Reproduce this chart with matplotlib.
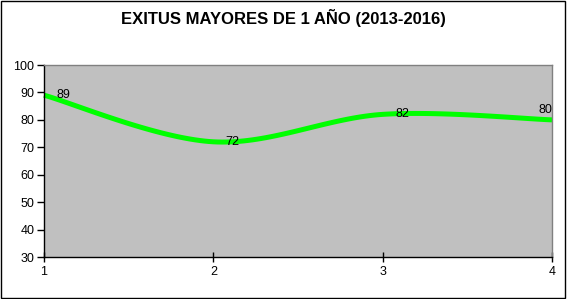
import numpy as np
import matplotlib.pyplot as plt
from matplotlib.patches import Rectangle

plt.rcParams['font.family'] = ['Liberation Sans', 'DejaVu Sans']

x = [1, 2, 3, 4]
valores = [89, 72, 82, 80]
titulo = 'EXITUS MAYORES DE 1 AÑO (2013-2016)'


def catmull_rom(px, py, n=40):
    # suavizado tipo Excel (curva por los puntos)
    px = np.asarray(px, float)
    py = np.asarray(py, float)
    px_e = np.r_[px[0], px, px[-1]]
    py_e = np.r_[py[0], py, py[-1]]
    xs, ys = [], []
    t = np.linspace(0, 1, n)
    for i in range(1, len(px_e) - 2):
        p0, p1, p2, p3 = [np.array([px_e[k], py_e[k]]) for k in range(i - 1, i + 3)]
        b1 = p1 + (p2 - p0) / 6
        b2 = p2 - (p3 - p1) / 6
        for tt in t:
            pt = ((1 - tt) ** 3) * p1 + 3 * ((1 - tt) ** 2) * tt * b1 + 3 * (1 - tt) * tt ** 2 * b2 + tt ** 3 * p2
            xs.append(pt[0])
            ys.append(pt[1])
    return np.array(xs), np.array(ys)


fig = plt.figure(figsize=(5.67, 2.99), dpi=100)
ax = fig.add_axes([44 / 567, 1 - 257 / 299, 508 / 567, 192 / 299])
ax.set_facecolor('#C0C0C0')

sx, sy = catmull_rom(x, valores)
ax.plot(sx, sy, color='#00FF00', lw=3.6, solid_capstyle='butt', clip_on=False)

for i, (xi, v) in enumerate(zip(x, valores)):
    if i == len(x) - 1:
        ax.annotate(str(v), (xi, v), xytext=(0, 3), textcoords='offset points',
                    ha='right', va='bottom', fontsize=9)
    else:
        ax.annotate(str(v), (xi, v), xytext=(9, 0), textcoords='offset points',
                    ha='left', va='center', fontsize=9)

ax.set_xlim(1, 4)
ax.set_ylim(30, 100)
ax.set_xticks(x)
ax.set_yticks(range(30, 101, 10))
ax.tick_params(axis='y', direction='out', length=5, width=1, labelsize=9, pad=2)
ax.tick_params(axis='x', direction='inout', length=7, width=1, labelsize=9, pad=3)
for s in ['left', 'bottom']:
    ax.spines[s].set_color('black')
    ax.spines[s].set_linewidth(1)
for s in ['top', 'right']:
    ax.spines[s].set_color('#808080')
    ax.spines[s].set_linewidth(1)

fig.text(283 / 567, 1 - 18 / 299, titulo, ha='center', va='center',
         fontsize=12, fontweight='bold')

fig.patches.append(Rectangle((0.002, 0.004), 0.994, 0.992, transform=fig.transFigure,
                             fill=False, edgecolor='black', lw=1))

fig.savefig('out.png', dpi=100)
